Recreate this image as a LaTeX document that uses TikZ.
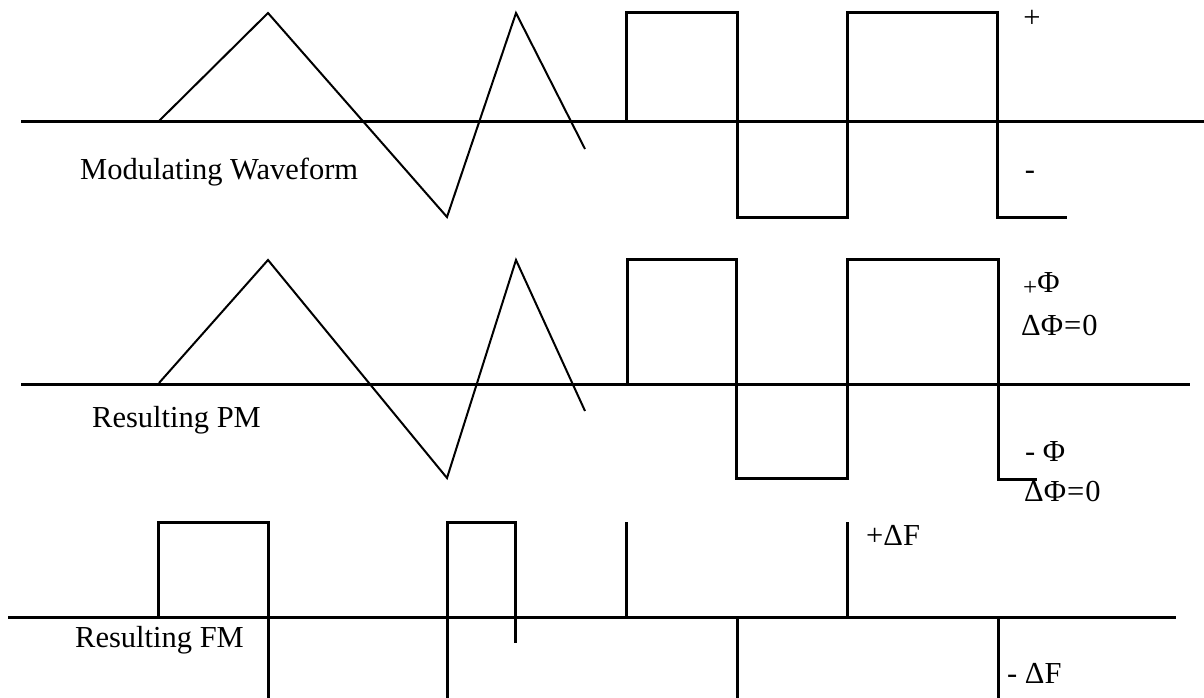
\documentclass[tikz,border=0pt]{standalone}
\usepackage{fontspec}
\setmainfont{Liberation Serif}
\begin{document}
\begin{tikzpicture}[x=1pt,y=-1pt,
  axis/.style={line width=3pt},
  ramp/.style={line width=2pt,line join=miter},
  pulse/.style={line width=3pt,line join=miter},
  lbl/.style={inner sep=0pt,anchor=base west,font=\fontsize{30.5}{33}\selectfont},
  sym/.style={inner sep=0pt,anchor=center,font=\fontsize{30.5}{33}\selectfont}]
\useasboundingbox (0,0) rectangle (1204,698);

% --- modulating waveform ---
\draw[axis] (21,122) -- (1204,122);
\draw[ramp] (159,121) -- (268,13) -- (447,217) -- (516,13) -- (585,149);
\draw[pulse] (626,122) -- (626,13) -- (737,13) -- (737,217) -- (847,217)
  -- (847,13) -- (997,13) -- (997,217) -- (1067,217);
\node[lbl] (modlbl) at (80,179) {Modulating Waveform};
\node[sym] (plus1) at (1032,19) {+};
\node[sym] (minus1) at (1030,175) {-};

% --- resulting PM ---
\draw[axis] (21,384) -- (1190,384);
\draw[ramp] (159,383) -- (268,260) -- (447,478) -- (516,260) -- (585,411);
\draw[pulse] (627,384) -- (627,259) -- (736,259) -- (736,478) -- (847,478)
  -- (847,259) -- (998,259) -- (998,479) -- (1037,479);
\node[lbl] (pmlbl) at (92,427) {Resulting PM};
\node[lbl] (pphi) at (1023,292) {\raisebox{-3pt}{\fontsize{25}{25}\selectfont +}Φ};
\node[lbl] (dphi1) at (1021,335) {ΔΦ\kern1pt=\kern1pt0};
\node[lbl] (mphi) at (1025,461) {- Φ};
\node[lbl] (dphi2) at (1024,501) {ΔΦ\kern1pt=\kern1pt0};

% --- resulting FM ---
\draw[axis] (8,617) -- (1176,617);
\draw[pulse] (158,617) -- (158,522) -- (268,522) -- (268,698);
\draw[pulse] (447,698) -- (447,522) -- (515,522) -- (515,643);
\draw[pulse] (626,522) -- (626,617);
\draw[pulse] (737,617) -- (737,698);
\draw[pulse] (847,522) -- (847,617);
\draw[pulse] (998,617) -- (998,698);
\node[lbl] (fmlbl) at (75,647) {Resulting FM};
\node[lbl] (pdf) at (866,545) {+ΔF};
\node[lbl] (mdf) at (1007,683) {- ΔF};
\end{tikzpicture}
\end{document}
